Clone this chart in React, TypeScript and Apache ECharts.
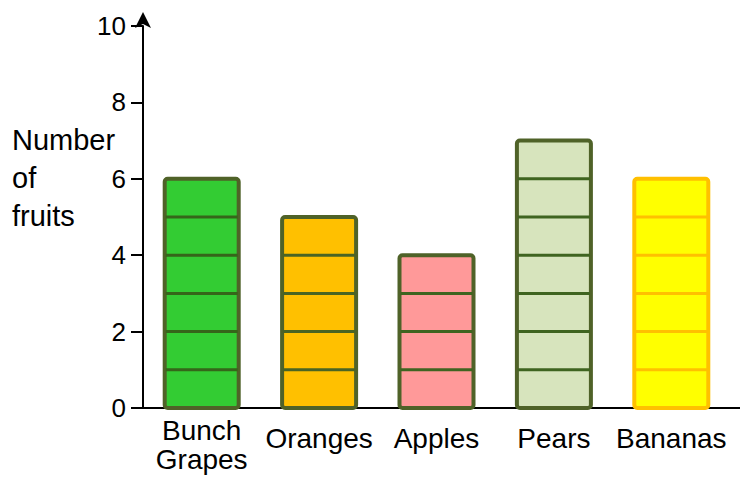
import React, { useEffect, useRef } from "react";
import * as echarts from "echarts";

const categories = ["Bunch\nGrapes", "Oranges", "Apples", "Pears", "Bananas"];
const counts = [6, 5, 4, 7, 6];
const fills = ["#33cc33", "#ffc000", "#ff9999", "#d7e4bd", "#ffff00"];
const borders = ["#4f6228", "#4f6228", "#4f6228", "#4f6228", "#ffc000"];
const innerLines = ["#35661a", "#4a6424", "#3f6420", "#3f6420", "#ffc000"];
const yTicks = [0, 2, 4, 6, 8, 10];
const yTitle = "Number\nof\nfruits";

export default function App() {
  const ref = useRef<HTMLDivElement>(null);
  useEffect(() => {
    if (!ref.current) return;
    const chart = echarts.init(ref.current, null, { renderer: "svg" });
    chart.setOption({
      animation: false,
      textStyle: { fontFamily: "Liberation Sans" },
      grid: { left: 143, right: 23, top: 26, bottom: 72, containLabel: false },
      xAxis: {
        type: "category",
        data: categories.map((c, i) =>
          i === 0
            ? { value: c, textStyle: { lineHeight: 29 } }
            : { value: c, textStyle: { padding: [8, 0, 0, 0] } }
        ),
        axisLine: { lineStyle: { color: "#000", width: 2 } },
        axisTick: { show: false },
        axisLabel: {
          color: "#000",
          fontSize: 28,
          margin: 8,
          lineHeight: 29,
          interval: 0,
          fontFamily: "Liberation Sans",
        },
      },
      yAxis: {
        type: "value",
        min: yTicks[0],
        max: yTicks[yTicks.length - 1],
        interval: 2,
        splitLine: { show: false },
        axisLine: {
          show: true,
          symbol: ["none", "arrow"],
          symbolSize: [12, 16],
          symbolOffset: [0, 14],
          lineStyle: { color: "#000", width: 2 },
        },
        axisTick: { show: true, length: 12, lineStyle: { color: "#000", width: 2 } },
        axisLabel: {
          color: "#000",
          fontSize: 26,
          margin: 17,
          fontFamily: "Liberation Sans",
        },
      },
      graphic: [
        {
          type: "text",
          left: 12,
          top: 121,
          style: {
            text: yTitle,
            fontSize: 29,
            lineHeight: 38,
            fill: "#000",
            fontFamily: "Liberation Sans",
          },
        },
        {
          type: "line",
          shape: { x1: 729, y1: 408, x2: 740, y2: 408 },
          style: { stroke: "#000", lineWidth: 2 },
        },
      ],
      series: [
        {
          type: "custom",
          z: 3,
          data: counts.map((c, i) => [i, c]),
          encode: { x: 0, y: 1 },
          renderItem: (params: any, api: any) => {
            const i = api.value(0);
            const v = api.value(1);
            const base = api.coord([i, 0]);
            const top = api.coord([i, v]);
            const w = 74;
            const x0 = base[0] - w / 2;
            const children: any[] = [
              {
                type: "rect",
                shape: { x: x0, y: top[1], width: w, height: base[1] - top[1], r: 3 },
                style: { fill: fills[i], stroke: borders[i], lineWidth: 4 },
              },
            ];
            for (let k = 1; k < v; k++) {
              const p = api.coord([i, k]);
              children.push({
                type: "line",
                shape: { x1: x0 + 1, y1: p[1], x2: x0 + w - 1, y2: p[1] },
                style: { stroke: innerLines[i], lineWidth: 3 },
              });
            }
            return { type: "group", children };
          },
        },
      ],
    });
    return () => chart.dispose();
  }, []);
  return (
    <div
      ref={ref}
      style={{ position: "absolute", left: 0, top: 0, width: 753, height: 480 }}
    />
  );
}
